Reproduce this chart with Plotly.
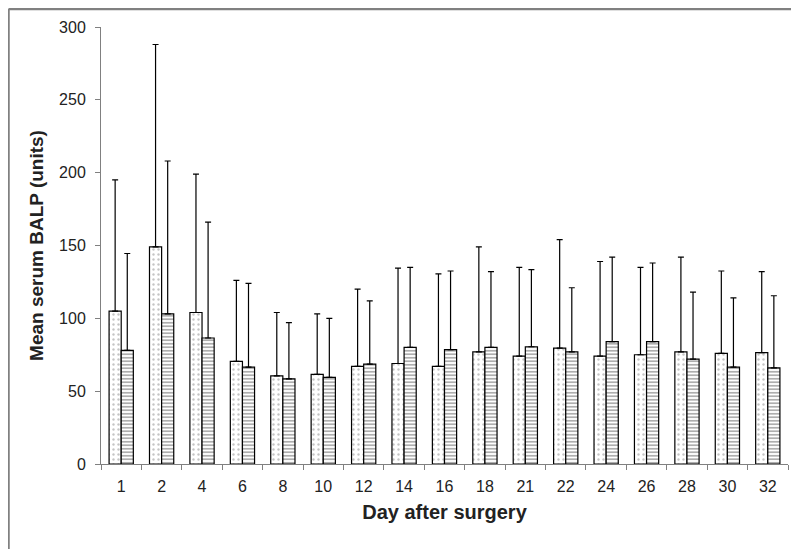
import plotly.graph_objects as go

# Days after surgery (categories)
days = ["1", "2", "4", "6", "8", "10", "12", "14", "16", "18",
        "21", "22", "24", "26", "28", "30", "32"]

# Group A (dotted bars): mean and top of error bar
mean_a = [105, 149, 104, 70.5, 60.5, 61.5, 67, 69, 67, 77,
          74, 79.5, 74, 75, 77, 76, 76.5]
top_a = [195, 288, 199, 126, 104, 103, 120, 134.5, 130.5, 149,
         135, 154, 139, 135, 142, 132.5, 132]

# Group B (horizontally striped bars)
mean_b = [78, 103, 86.5, 66.5, 58.5, 59.5, 68.5, 80, 78.5, 80,
          80.5, 77, 84, 84, 72, 66.5, 66]
top_b = [144.5, 208, 166, 124, 97, 100, 112, 135, 132.5, 132,
         133.5, 121, 142, 138, 118, 114, 115.5]

y_ticks = [0, 50, 100, 150, 200, 250, 300]

err_a = [t - m for t, m in zip(top_a, mean_a)]
err_b = [t - m for t, m in zip(top_b, mean_b)]

# page has an 8px body margin, so the figure is a bit smaller than the window
W, H = 791, 541
ML, MR, MT, MB = 93, 11, 19, 85

fig = go.Figure()

fig.add_trace(go.Bar(
    x=days, y=mean_a,
    marker=dict(color="white", line=dict(color="black", width=1.2),
                pattern=dict(shape=".", fgcolor="#8a8a8a", bgcolor="white",
                             size=5, solidity=0.18)),
    error_y=dict(type="data", array=err_a, arrayminus=[0] * len(err_a),
                 symmetric=False, color="black", thickness=1.2, width=3),
    showlegend=False,
))

fig.add_trace(go.Bar(
    x=days, y=mean_b,
    marker=dict(color="white", line=dict(color="black", width=1.2),
                pattern=dict(shape="-", fgcolor="#4a4a4a", bgcolor="white",
                             size=3.5, solidity=0.45)),
    error_y=dict(type="data", array=err_b, arrayminus=[0] * len(err_b),
                 symmetric=False, color="black", thickness=1.2, width=3),
    showlegend=False,
))

# grey frame round the figure (only top and left edges are visible)
pw, ph = W - ML - MR, H - MT - MB
fx0 = (0.5 - ML) / pw
fy0 = (H - MB - 1) / ph
frame = dict(color="#808080", width=2.5)
fig.add_shape(type="line", xref="paper", yref="paper",
              x0=fx0, y0=fy0, x1=(W + 5 - ML) / pw, y1=fy0, line=frame)
fig.add_shape(type="line", xref="paper", yref="paper",
              x0=fx0, y0=fy0, x1=fx0, y1=-(MB + 5) / ph, line=frame)

font = dict(family="Liberation Sans, Arial, sans-serif", color="#222222")

fig.update_layout(
    width=W, height=H,
    margin=dict(l=ML, r=MR, t=MT, b=MB),
    plot_bgcolor="white", paper_bgcolor="white",
    barmode="group", bargap=0.4, bargroupgap=0,
    font=dict(size=16, **font),
)

fig.update_xaxes(
    type="category", tickson="boundaries", ticks="outside", ticklen=5,
    tickcolor="#808080", showline=True, linecolor="#808080", linewidth=1,
    showgrid=False, tickfont=dict(size=16, **font), ticklabelstandoff=8,
    automargin=False,
    title=dict(text="<b>Day after surgery</b>", font=dict(size=20, **font),
               standoff=10),
)

fig.update_yaxes(
    range=[0, 300], tickvals=y_ticks, ticks="outside", ticklen=5,
    tickcolor="#808080", showline=True, linecolor="#808080", linewidth=1,
    showgrid=False, zeroline=False, tickfont=dict(size=16, **font),
    ticklabelstandoff=6, automargin=False,
    title=dict(text="<b>Mean serum BALP (units)</b>", font=dict(size=19, **font),
               standoff=10),
)

fig.write_html("out.html")
